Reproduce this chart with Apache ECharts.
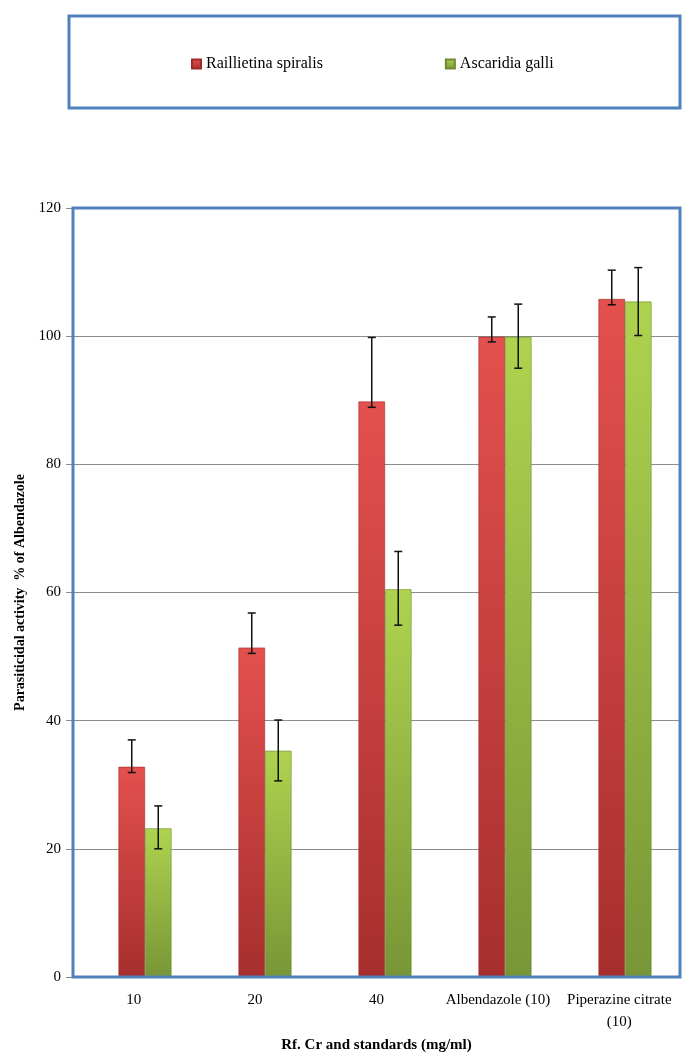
<!DOCTYPE html>
<html>
<head>
<meta charset="utf-8">
<script src="https://cdn.jsdelivr.net/npm/echarts@6/dist/echarts.min.js"></script>
<style>
  html, body { margin: 0; padding: 0; background: #fff; }
  #chart { width: 685px; height: 1062px; }
</style>
</head>
<body>
<div id="chart"></div>
<script>
// values
const categories = ["10", "20", "40", "Albendazole (10)", "Piperazine citrate\n(10)"];
const seriesNames = ["Raillietina spiralis", "Ascaridia galli"];
const raillietina = [32.8, 51.4, 89.8, 99.9, 105.8];
const raillietinaLow = [31.9, 50.5, 88.9, 99.1, 104.9];
const raillietinaHigh = [37.0, 56.8, 99.8, 103.0, 110.3];
const ascaridia = [23.2, 35.3, 60.5, 99.9, 105.4];
const ascaridiaLow = [20.0, 30.6, 54.9, 95.0, 100.1];
const ascaridiaHigh = [26.7, 40.1, 66.4, 105.0, 110.7];
const yTicks = { min: 0, max: 120, interval: 20 };

const font = "'Liberation Serif', 'Times New Roman', serif";
const blue = "#4F81BD";
const barW = 26.5;

const chart = echarts.init(document.getElementById("chart"));

function grad(top, bottom) {
    return new echarts.graphic.LinearGradient(0, 0, 0, 1, [
        { offset: 0, color: top },
        { offset: 1, color: bottom },
    ]);
}

// error bar renderer, offset = horizontal shift from category centre
function errorBars(low, high, offset) {
    return {
        type: "custom",
        xAxisIndex: 1,
        yAxisIndex: 1,
        z: 10,
        data: low.map((l, i) => [i, l, high[i]]),
        renderItem: (params, api) => {
            const lo = api.coord([api.value(0), api.value(1)]);
            const hi = api.coord([api.value(0), api.value(2)]);
            const x = lo[0] + offset;
            const cap = 4;
            const style = { stroke: "#111", lineWidth: 1.5 };
            return {
                type: "group",
                children: [
                    { type: "line", shape: { x1: x, y1: lo[1], x2: x, y2: hi[1] }, style },
                    { type: "line", shape: { x1: x - cap, y1: lo[1], x2: x + cap, y2: lo[1] }, style },
                    { type: "line", shape: { x1: x - cap, y1: hi[1], x2: x + cap, y2: hi[1] }, style },
                ],
            };
        },
    };
}

const option = {
    animation: false,
    backgroundColor: "#fff",
    textStyle: { fontFamily: font },
    legend: {
        data: seriesNames,
        left: 186,
        top: 51,
        icon: "rect",
        itemWidth: 9,
        itemHeight: 9,
        itemGap: 122,
        textStyle: { fontFamily: font, fontSize: 16, color: "#000" },
    },
    grid: [
        { left: 73, top: 208, width: 607, height: 769 },
        { left: 85, top: 208, width: 607, height: 769 },
    ],
    xAxis: [
        {
            type: "category",
            gridIndex: 0,
            data: categories,
            axisLine: { show: false },
            axisTick: { show: false },
            axisLabel: {
                margin: 12,
                fontFamily: font,
                fontSize: 15,
                color: "#000",
                interval: 0,
                lineHeight: 22,
            },
            name: "Rf. Cr and standards (mg/ml)",
            nameLocation: "middle",
            nameGap: 57,
            nameTextStyle: { fontFamily: font, fontSize: 15, fontWeight: "bold", color: "#000" },
        },
        {
            type: "category",
            gridIndex: 1,
            data: categories,
            show: false,
        },
    ],
    yAxis: [
        {
            type: "value",
            gridIndex: 0,
            min: yTicks.min,
            max: yTicks.max,
            interval: yTicks.interval,
            axisLine: { show: false },
            axisTick: { show: true, length: 7, lineStyle: { color: "#888" } },
            axisLabel: { margin: 12, fontFamily: font, fontSize: 15, color: "#000" },
            splitLine: { show: true, lineStyle: { color: "#8c8c8c", width: 1 } },
            name: "Parasiticidal activity  % of Albendazole",
            nameLocation: "middle",
            nameGap: 46,
            nameTextStyle: { fontFamily: font, fontSize: 14, fontWeight: "bold", color: "#000" },
        },
        {
            type: "value",
            gridIndex: 1,
            min: yTicks.min,
            max: yTicks.max,
            interval: yTicks.interval,
            show: false,
            splitLine: { show: false },
        },
    ],
    series: [
        {
            name: seriesNames[0],
            type: "bar",
            xAxisIndex: 1,
            yAxisIndex: 1,
            data: raillietina,
            barWidth: barW,
            barGap: "0%",
            itemStyle: {
                color: grad("#E4504E", "#A62F2D"),
                borderColor: "#9A2B28",
                borderWidth: 0.6,
            },
        },
        {
            name: seriesNames[1],
            type: "bar",
            xAxisIndex: 1,
            yAxisIndex: 1,
            data: ascaridia,
            barWidth: barW,
            barGap: "0%",
            itemStyle: {
                color: grad("#AFD34F", "#789636"),
                borderColor: "#6E8A32",
                borderWidth: 0.6,
            },
        },
        errorBars(raillietinaLow, raillietinaHigh, -barW / 2),
        errorBars(ascaridiaLow, ascaridiaHigh, barW / 2),
    ],
    graphic: [
        {
            type: "rect",
            shape: { x: 69, y: 16, width: 611, height: 92 },
            style: { fill: null, stroke: blue, lineWidth: 3 },
            z: 100,
        },
        {
            type: "rect",
            shape: { x: 73, y: 208, width: 607, height: 769 },
            style: { fill: null, stroke: blue, lineWidth: 3 },
            z: 100,
        },
    ],
};

chart.setOption(option);
</script>
</body>
</html>
